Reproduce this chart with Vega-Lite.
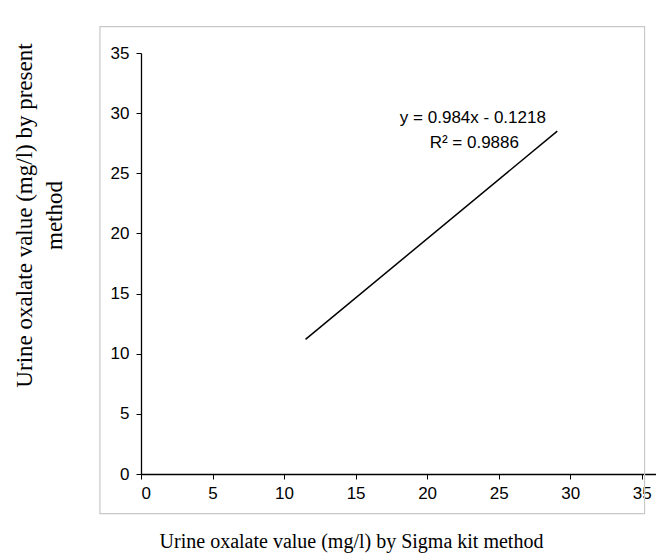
{
  "$schema": "https://vega.github.io/schema/vega-lite/v6.json",
  "width": 515,
  "height": 421,
  "autosize": {"type": "none"},
  "padding": {"left": 141, "top": 53, "right": 0, "bottom": 79},
  "background": "white",
  "config": {"view": {"stroke": null}},
  "datasets": {
    "trend": [
      {"sigma": 11.5, "present": 11.19},
      {"sigma": 29.1, "present": 28.51}
    ],
    "one": [{}]
  },
  "layer": [
    {
      "data": {"name": "one"},
      "mark": {"type": "rect", "fill": null, "stroke": "#c8c8c8", "strokeWidth": 1.2},
      "encoding": {
        "x": {"datum": -2.87, "type": "quantitative"},
        "x2": {"datum": 35.2},
        "y": {"datum": 37.2, "type": "quantitative"},
        "y2": {"datum": -3.3}
      }
    },
    {
      "data": {"name": "trend"},
      "mark": {"type": "line", "color": "black", "strokeWidth": 1.5},
      "encoding": {
        "x": {
          "field": "sigma", "type": "quantitative",
          "scale": {"domain": [0, 36], "nice": false, "zero": false},
          "axis": {
            "values": [0, 5, 10, 15, 20, 25, 30, 35],
            "grid": false,
            "domainColor": "black", "domainWidth": 1.3,
            "tickColor": "black", "tickSize": 5,
            "labelFont": "Liberation Sans", "labelFontSize": 17, "labelColor": "black",
            "labelPadding": 6,
            "title": "Urine  oxalate value (mg/l) by Sigma kit method",
            "titleFont": "Liberation Serif", "titleFontSize": 20, "titleFontWeight": "normal",
            "titleColor": "black",
            "titleAnchor": "start", "titleAlign": "center",
            "titleX": 210, "titleY": 67, "titleBaseline": "middle"
          }
        },
        "y": {
          "field": "present", "type": "quantitative",
          "scale": {"domain": [0, 35], "nice": false, "zero": false},
          "axis": {
            "values": [0, 5, 10, 15, 20, 25, 30, 35],
            "grid": false,
            "domainColor": "black", "domainWidth": 1.3,
            "tickColor": "black", "tickSize": 5,
            "labelFont": "Liberation Sans", "labelFontSize": 17, "labelColor": "black",
            "labelPadding": 7,
            "title": ["Urine  oxalate value (mg/l) by present", "method"],
            "titleFont": "Liberation Serif", "titleFontSize": 23, "titleFontWeight": "normal",
            "titleColor": "black", "titleLineHeight": 30,
            "titleAlign": "center", "titleBaseline": "middle",
            "titleX": -117, "titleY": 162
          }
        }
      }
    },
    {
      "data": {"name": "one"},
      "mark": {"type": "text", "font": "Liberation Sans", "fontSize": 17, "color": "black", "align": "center", "baseline": "middle"},
      "encoding": {
        "x": {"datum": 23.2, "type": "quantitative"},
        "y": {"datum": 29.6, "type": "quantitative"},
        "text": {"value": "y = 0.984x - 0.1218"}
      }
    },
    {
      "data": {"name": "one"},
      "mark": {"type": "text", "font": "Liberation Sans", "fontSize": 17, "color": "black", "align": "center", "baseline": "middle"},
      "encoding": {
        "x": {"datum": 23.3, "type": "quantitative"},
        "y": {"datum": 27.5, "type": "quantitative"},
        "text": {"value": "R² = 0.9886"}
      }
    }
  ]
}
